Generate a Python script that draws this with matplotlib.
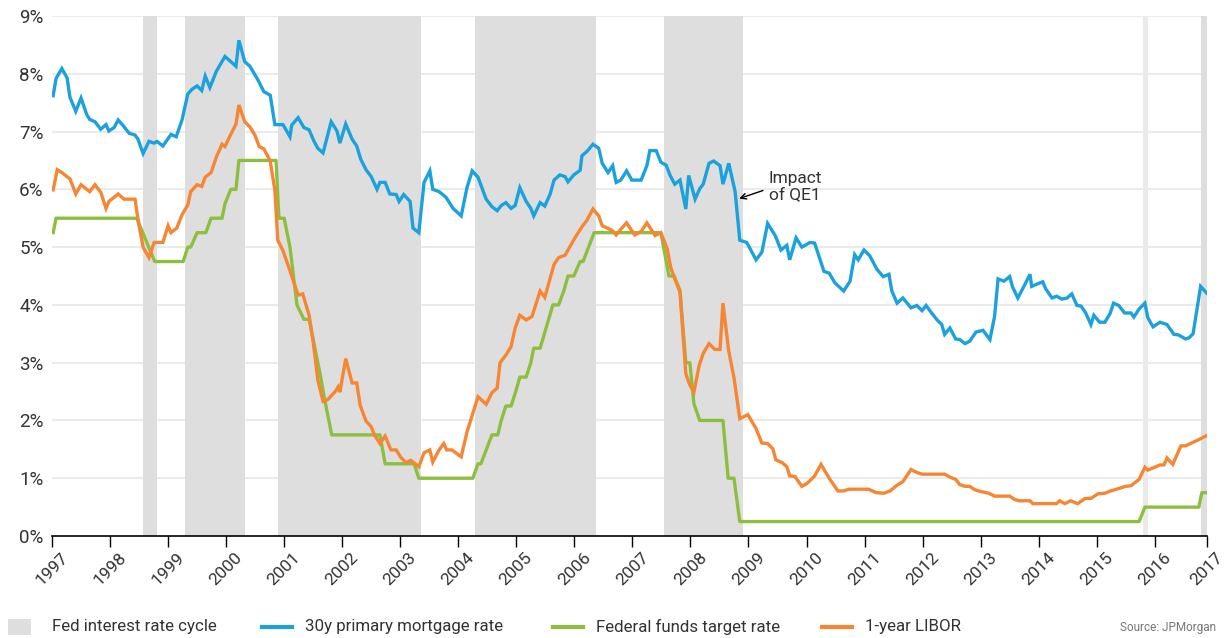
import matplotlib
matplotlib.use("Agg")
import matplotlib.pyplot as plt
from matplotlib.lines import Line2D
from matplotlib.patches import Rectangle

# ---------------- data (decimal year, percent) ----------------
mortgage_x = [1997.02, 1997.07, 1997.17, 1997.26, 1997.31, 1997.41, 1997.50, 1997.60, 1997.65, 1997.74,
              1997.84, 1997.93, 1997.98, 1998.07, 1998.14, 1998.22, 1998.33, 1998.43, 1998.48, 1998.57,
              1998.67, 1998.76, 1998.81, 1998.91, 1999.05, 1999.14, 1999.24, 1999.34, 1999.41, 1999.50,
              1999.58, 1999.64, 1999.72, 1999.83, 1999.98, 2000.17, 2000.22, 2000.32, 2000.41, 2000.55,
              2000.65, 2000.76, 2000.84, 2000.98, 2001.10, 2001.13, 2001.24, 2001.34, 2001.43, 2001.51,
              2001.58, 2001.67, 2001.81, 2001.91, 2001.96, 2002.06, 2002.17, 2002.25, 2002.32, 2002.41,
              2002.50, 2002.60, 2002.65, 2002.74, 2002.82, 2002.93, 2002.98, 2003.06, 2003.17, 2003.22,
              2003.32, 2003.41, 2003.51, 2003.56, 2003.67, 2003.79, 2003.91, 2004.05, 2004.15, 2004.24,
              2004.34, 2004.48, 2004.58, 2004.67, 2004.74, 2004.82, 2004.91, 2004.98, 2005.06, 2005.17,
              2005.25, 2005.30, 2005.41, 2005.49, 2005.58, 2005.65, 2005.75, 2005.84, 2005.89, 2005.99,
              2006.10, 2006.13, 2006.22, 2006.32, 2006.42, 2006.48, 2006.58, 2006.66, 2006.72, 2006.80,
              2006.90, 2006.99, 2007.15, 2007.25, 2007.30, 2007.41, 2007.49, 2007.58, 2007.65, 2007.73,
              2007.82, 2007.92, 2007.97, 2008.08, 2008.16, 2008.22, 2008.32, 2008.40, 2008.51, 2008.56,
              2008.66, 2008.77, 2008.85, 2008.97, 2009.13, 2009.23, 2009.33, 2009.46, 2009.56, 2009.66,
              2009.71, 2009.82, 2009.92, 2010.06, 2010.14, 2010.30, 2010.39, 2010.49, 2010.64, 2010.75,
              2010.83, 2010.89, 2010.99, 2011.09, 2011.21, 2011.32, 2011.42, 2011.47, 2011.56, 2011.66,
              2011.80, 2011.90, 2011.99, 2012.06, 2012.14, 2012.25, 2012.33, 2012.38, 2012.47, 2012.57,
              2012.64, 2012.73, 2012.81, 2012.92, 2013.04, 2013.16, 2013.24, 2013.30, 2013.40, 2013.50,
              2013.55, 2013.64, 2013.74, 2013.85, 2013.88, 2013.97, 2014.07, 2014.12, 2014.23, 2014.31,
              2014.40, 2014.49, 2014.57, 2014.66, 2014.73, 2014.81, 2014.90, 2014.95, 2015.05, 2015.14,
              2015.23, 2015.29, 2015.38, 2015.48, 2015.59, 2015.64, 2015.73, 2015.83, 2015.88, 2015.97,
              2016.09, 2016.21, 2016.33, 2016.41, 2016.53, 2016.59, 2016.66, 2016.79, 2016.90]
mortgage_y = [7.62, 7.92, 8.09, 7.93, 7.59, 7.35, 7.58, 7.29, 7.21, 7.17,
              7.04, 7.12, 7.01, 7.07, 7.20, 7.11, 6.97, 6.94, 6.87, 6.62,
              6.83, 6.80, 6.83, 6.75, 6.95, 6.91, 7.20, 7.65, 7.73, 7.79,
              7.71, 7.96, 7.76, 8.04, 8.30, 8.13, 8.58, 8.21, 8.13, 7.89,
              7.69, 7.63, 7.12, 7.12, 6.91, 7.11, 7.24, 7.07, 7.03, 6.84,
              6.71, 6.63, 7.17, 7.01, 6.80, 7.13, 6.87, 6.75, 6.52, 6.34,
              6.22, 6.00, 6.12, 6.12, 5.92, 5.91, 5.79, 5.91, 5.79, 5.33,
              5.25, 6.12, 6.32, 6.00, 5.96, 5.86, 5.67, 5.54, 6.03, 6.32,
              6.21, 5.83, 5.70, 5.63, 5.72, 5.77, 5.67, 5.72, 6.03, 5.79,
              5.67, 5.54, 5.77, 5.71, 5.91, 6.16, 6.25, 6.22, 6.13, 6.25,
              6.33, 6.58, 6.66, 6.78, 6.71, 6.45, 6.29, 6.41, 6.12, 6.16,
              6.32, 6.16, 6.16, 6.41, 6.67, 6.67, 6.47, 6.42, 6.24, 6.09,
              6.16, 5.66, 6.24, 5.83, 6.01, 6.09, 6.45, 6.49, 6.41, 6.09,
              6.45, 5.96, 5.12, 5.08, 4.78, 4.91, 5.41, 5.20, 4.95, 5.03,
              4.78, 5.16, 5.00, 5.08, 5.07, 4.58, 4.55, 4.38, 4.24, 4.41,
              4.87, 4.78, 4.95, 4.85, 4.62, 4.49, 4.53, 4.24, 4.03, 4.12,
              3.95, 3.99, 3.90, 3.99, 3.88, 3.74, 3.66, 3.49, 3.60, 3.41,
              3.40, 3.33, 3.37, 3.53, 3.56, 3.40, 3.80, 4.45, 4.41, 4.49,
              4.31, 4.12, 4.31, 4.53, 4.32, 4.36, 4.40, 4.28, 4.12, 4.15,
              4.10, 4.12, 4.19, 3.99, 3.98, 3.86, 3.66, 3.82, 3.70, 3.70,
              3.85, 4.03, 3.99, 3.86, 3.86, 3.79, 3.93, 4.03, 3.78, 3.62,
              3.70, 3.66, 3.49, 3.48, 3.41, 3.43, 3.50, 4.32, 4.20]

fedfunds_x = [1997.02, 1997.07, 1998.46, 1998.77, 1999.26, 1999.34, 1999.39, 1999.50, 1999.65, 1999.74,
              1999.93, 1999.98, 2000.08, 2000.17, 2000.22, 2000.86, 2000.91, 2001.00, 2001.10, 2001.22,
              2001.34, 2001.43, 2001.53, 2001.62, 2001.70, 2001.82, 2002.65, 2002.74, 2003.24, 2003.32,
              2004.25, 2004.34, 2004.39, 2004.58, 2004.68, 2004.74, 2004.82, 2004.91, 2004.99, 2005.06,
              2005.17, 2005.25, 2005.30, 2005.41, 2005.63, 2005.73, 2005.82, 2005.89, 2005.99, 2006.10,
              2006.15, 2006.34, 2007.49, 2007.63, 2007.72, 2007.82, 2007.92, 2007.99, 2008.06, 2008.16,
              2008.56, 2008.65, 2008.75, 2008.85, 2015.73, 2015.83, 2016.76, 2016.81, 2016.90]
fedfunds_y = [5.25, 5.50, 5.50, 4.75, 4.75, 5.00, 5.00, 5.25, 5.25, 5.50,
              5.50, 5.75, 6.00, 6.00, 6.50, 6.50, 5.50, 5.50, 5.00, 4.00,
              3.75, 3.75, 3.25, 2.80, 2.35, 1.75, 1.75, 1.25, 1.25, 1.00,
              1.00, 1.25, 1.25, 1.75, 1.75, 2.00, 2.25, 2.25, 2.50, 2.75,
              2.75, 3.00, 3.25, 3.25, 4.00, 4.00, 4.25, 4.50, 4.50, 4.75,
              4.75, 5.25, 5.25, 4.50, 4.50, 4.25, 3.00, 3.00, 2.29, 2.00,
              2.00, 1.00, 1.00, 0.25, 0.25, 0.50, 0.50, 0.75, 0.75]

libor_x = [1997.02, 1997.09, 1997.17, 1997.31, 1997.41, 1997.50, 1997.65, 1997.74, 1997.84, 1997.93,
           1997.98, 1998.14, 1998.24, 1998.43, 1998.50, 1998.57, 1998.67, 1998.76, 1998.91, 1999.00,
           1999.05, 1999.15, 1999.24, 1999.34, 1999.39, 1999.50, 1999.58, 1999.64, 1999.74, 1999.84,
           1999.93, 1999.98, 2000.07, 2000.17, 2000.22, 2000.32, 2000.41, 2000.50, 2000.57, 2000.65,
           2000.76, 2000.84, 2000.89, 2000.98, 2001.10, 2001.24, 2001.32, 2001.43, 2001.50, 2001.58,
           2001.67, 2001.75, 2001.88, 2001.93, 2001.96, 2002.06, 2002.17, 2002.25, 2002.31, 2002.41,
           2002.50, 2002.56, 2002.65, 2002.74, 2002.84, 2002.93, 2003.01, 2003.10, 2003.18, 2003.32,
           2003.41, 2003.51, 2003.56, 2003.67, 2003.75, 2003.80, 2003.89, 2004.05, 2004.15, 2004.34,
           2004.48, 2004.58, 2004.67, 2004.72, 2004.82, 2004.91, 2004.98, 2005.06, 2005.17, 2005.27,
           2005.41, 2005.49, 2005.65, 2005.73, 2005.84, 2006.01, 2006.13, 2006.22, 2006.32, 2006.42,
           2006.48, 2006.65, 2006.72, 2006.80, 2006.90, 2007.04, 2007.15, 2007.25, 2007.39, 2007.49,
           2007.60, 2007.66, 2007.73, 2007.82, 2007.92, 2007.99, 2008.06, 2008.15, 2008.22, 2008.32,
           2008.42, 2008.51, 2008.56, 2008.66, 2008.75, 2008.85, 2008.99, 2009.13, 2009.23, 2009.33,
           2009.42, 2009.47, 2009.58, 2009.66, 2009.71, 2009.80, 2009.92, 2010.01, 2010.14, 2010.25,
           2010.39, 2010.54, 2010.64, 2010.73, 2011.07, 2011.20, 2011.33, 2011.44, 2011.56, 2011.66,
           2011.80, 2011.90, 2011.99, 2012.12, 2012.38, 2012.47, 2012.57, 2012.64, 2012.73, 2012.81,
           2012.90, 2013.00, 2013.14, 2013.24, 2013.50, 2013.59, 2013.66, 2013.85, 2013.90, 2014.31,
           2014.36, 2014.45, 2014.55, 2014.67, 2014.80, 2014.90, 2015.02, 2015.14, 2015.24, 2015.31,
           2015.50, 2015.59, 2015.73, 2015.83, 2015.88, 2016.09, 2016.16, 2016.21, 2016.31, 2016.45,
           2016.53, 2016.72, 2016.90]
libor_y = [5.99, 6.34, 6.29, 6.18, 5.92, 6.08, 5.96, 6.08, 5.95, 5.67,
           5.79, 5.92, 5.83, 5.83, 5.37, 5.00, 4.82, 5.08, 5.08, 5.37,
           5.25, 5.33, 5.56, 5.73, 5.96, 6.08, 6.05, 6.21, 6.29, 6.58,
           6.78, 6.74, 6.93, 7.13, 7.46, 7.17, 7.08, 6.93, 6.74, 6.70,
           6.49, 5.98, 5.12, 4.94, 4.59, 4.17, 4.19, 3.82, 3.36, 2.70,
           2.33, 2.36, 2.50, 2.58, 2.49, 3.07, 2.65, 2.65, 2.26, 1.99,
           1.89, 1.74, 1.60, 1.73, 1.49, 1.49, 1.36, 1.27, 1.31, 1.20,
           1.44, 1.49, 1.28, 1.49, 1.60, 1.49, 1.49, 1.37, 1.80, 2.41,
           2.28, 2.48, 2.56, 3.00, 3.13, 3.28, 3.60, 3.82, 3.74, 3.80,
           4.24, 4.13, 4.70, 4.82, 4.86, 5.16, 5.35, 5.47, 5.66, 5.54,
           5.37, 5.29, 5.21, 5.31, 5.42, 5.21, 5.27, 5.42, 5.20, 5.25,
           4.97, 4.65, 4.45, 4.22, 2.81, 2.61, 2.49, 2.95, 3.16, 3.33,
           3.23, 3.23, 4.03, 3.20, 2.74, 2.03, 2.10, 1.86, 1.61, 1.60,
           1.51, 1.32, 1.27, 1.20, 1.04, 1.03, 0.86, 0.91, 1.04, 1.24,
           1.00, 0.78, 0.78, 0.81, 0.81, 0.75, 0.74, 0.78, 0.88, 0.94,
           1.15, 1.10, 1.07, 1.07, 1.07, 1.02, 0.98, 0.89, 0.86, 0.86,
           0.80, 0.77, 0.74, 0.69, 0.69, 0.63, 0.61, 0.61, 0.56, 0.56,
           0.61, 0.56, 0.61, 0.56, 0.65, 0.65, 0.73, 0.74, 0.78, 0.80,
           0.86, 0.87, 0.98, 1.19, 1.14, 1.23, 1.23, 1.35, 1.24, 1.56,
           1.56, 1.65, 1.74]

cycle_start = [1998.57, 1999.29, 2000.89, 2004.29, 2007.54, 2016.79]
cycle_end = [1998.81, 2000.32, 2003.36, 2006.37, 2008.90, 2016.90]
light_cycle_start = [2015.79]
light_cycle_end = [2015.88]

year_ticks = list(range(1997, 2017))
year_labels = [str(y) for y in year_ticks]
y_ticks = list(range(0, 10))
y_labels = [f"{v}%" for v in y_ticks]

# ---------------- style ----------------
FONT = ["Roboto", "DejaVu Sans"]
plt.rcParams["font.family"] = FONT
TEXT = "#333333"
BLUE = "#1BA1DC"
GREEN = "#8DBF3F"
ORANGE = "#F68633"
SHADE = "#DEDEDE"

fig = plt.figure(figsize=(12.25, 6.38), dpi=100)
ax = fig.add_axes([52 / 1225, 1 - 536 / 638, (1207 - 52) / 1225, (536 - 16) / 638])

for s, e in zip(cycle_start, cycle_end):
    ax.axvspan(s, e, color=SHADE, lw=0, zorder=1)
for s, e in zip(light_cycle_start, light_cycle_end):
    ax.axvspan(s, e, color="#EAEAEA", lw=0, zorder=1)

for v in y_ticks[1:]:
    ax.axhline(v, color="#EBEBEB", lw=1.5, zorder=0.5)

lw = 2.4
ax.plot(mortgage_x, mortgage_y, color=BLUE, lw=lw, zorder=3, solid_joinstyle="miter")
ax.plot(fedfunds_x, fedfunds_y, color=GREEN, lw=lw, zorder=3)
ax.plot(libor_x, libor_y, color=ORANGE, lw=lw, zorder=4, solid_joinstyle="miter")

ax.set_xlim(1997, 2016.90)
ax.set_ylim(0, 9)

ax.set_yticks(y_ticks)
ax.set_yticklabels(y_labels, fontsize=13.5, color=TEXT)
ax.tick_params(axis="y", length=0, pad=6)

xt = year_ticks + [2016.90]
xl = year_labels + ["2017"]
ax.set_xticks(xt)
ax.set_xticklabels(xl, rotation=45, fontsize=12.5, color=TEXT, ha="center")
ax.tick_params(axis="x", length=8, width=1, color="#000000", pad=2, direction="out")

for sp in ["left", "right", "top"]:
    ax.spines[sp].set_visible(False)
ax.spines["bottom"].set_color("#000000")
ax.spines["bottom"].set_linewidth(1.2)
ax.spines["bottom"].set_zorder(5)

ax.text(2009.80, 6.05, "Impact\nof QE1", ha="center", va="center", multialignment="center",
        fontsize=12.5, color=TEXT, linespacing=1.15, zorder=6)
ax.annotate("", xy=(2008.84, 5.84), xytext=(2009.25, 5.98),
            arrowprops=dict(arrowstyle="->", color="#000000", lw=1.0,
                            shrinkA=0, shrinkB=0), zorder=6)

# ---------------- legend (bottom) ----------------
ly = 1 - 627 / 638
fig.add_artist(Rectangle((8 / 1225, ly - 8 / 638), 23 / 1225, 16 / 638,
                         transform=fig.transFigure, color=SHADE, lw=0))
fig.text(52 / 1225, ly, "Fed interest rate cycle", fontsize=12.2, color=TEXT, va="center")
for x0, col, lab in [(262, BLUE, "30y primary mortgage rate"),
                     (553, GREEN, "Federal funds target rate"),
                     (822, ORANGE, "1-year LIBOR")]:
    fig.add_artist(Line2D([x0 / 1225, (x0 + 30) / 1225], [ly, ly], color=col, lw=3,
                          transform=fig.transFigure))
    fig.text((x0 + 43) / 1225, ly, lab, fontsize=12.2, color=TEXT, va="center")
fig.text(1216 / 1225, ly, "Source: JPMorgan", fontsize=8.5, color="#777777",
         va="center", ha="right")

fig.savefig("out.png", dpi=100)
